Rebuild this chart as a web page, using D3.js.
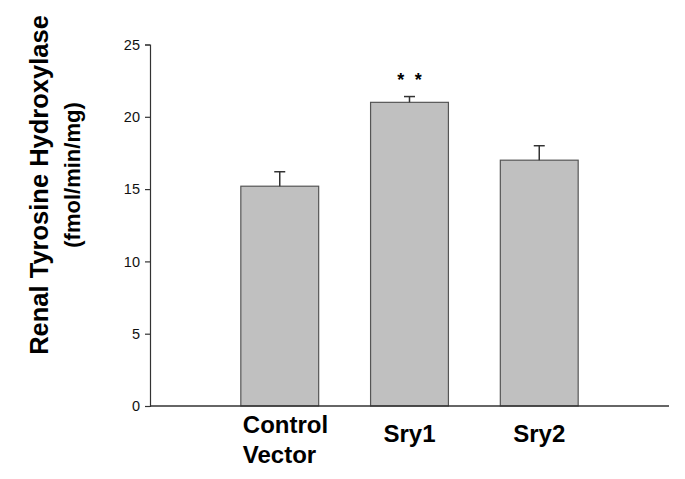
<!DOCTYPE html>
<html>
<head>
<meta charset="utf-8">
<script src="https://cdn.jsdelivr.net/npm/d3@7"></script>
<style>
  body { margin: 0; background: #fff; }
  text { font-family: Arial, "Liberation Sans", sans-serif; }
</style>
</head>
<body>
<svg id="chart" width="685" height="479"></svg>
<script>
// values
var groups = ["Control", "Sry1", "Sry2"];
var groupLabels = [["Control", "Vector"], ["Sry1"], ["Sry2"]];
var means = [15.2, 21.0, 17.0];
var sem = [1.0, 0.4, 1.0];
var marks = ["", "**", ""];
var yTicks = [0, 5, 10, 15, 20, 25];
var yTitle = ["Renal Tyrosine Hydroxylase", "(fmol/min/mg)"];

var svg = d3.select("#chart");
var plotL = 150, plotR = 669, plotT = 44.5, plotB = 406;

var x = d3.scalePoint().domain(groups).range([plotL, plotR]).padding(1);
var y = d3.scaleLinear().domain([0, 25]).range([plotB, plotT]);
var bw = x.step() * 0.6;

var rows = groups.map(function(g, i) {
  return { g: g, m: means[i], e: sem[i], s: marks[i], lab: groupLabels[i] };
});

// bars
svg.append("g").selectAll("rect").data(rows).join("rect")
  .attr("x", d => x(d.g) - bw / 2)
  .attr("y", d => y(d.m))
  .attr("width", bw)
  .attr("height", d => y(0) - y(d.m))
  .attr("fill", "#c0c0c0")
  .attr("stroke", "#555")
  .attr("stroke-width", 1.2);

// error bars (upper only)
var eb = svg.append("g").attr("stroke", "#333").attr("stroke-width", 1.5);
eb.selectAll("line.v").data(rows).join("line").attr("class", "v")
  .attr("x1", d => x(d.g)).attr("x2", d => x(d.g))
  .attr("y1", d => y(d.m)).attr("y2", d => y(d.m + d.e));
eb.selectAll("line.c").data(rows).join("line").attr("class", "c")
  .attr("x1", d => x(d.g) - 5.5).attr("x2", d => x(d.g) + 5.5)
  .attr("y1", d => y(d.m + d.e)).attr("y2", d => y(d.m + d.e));

// significance stars
rows.filter(d => d.s).forEach(function(d) {
  d.s.split("").forEach(function(c, k, arr) {
    svg.append("text")
      .attr("x", x(d.g) + (k - (arr.length - 1) / 2) * 17.5)
      .attr("y", y(d.m + d.e) - 11)
      .attr("text-anchor", "middle")
      .attr("font-size", 18).attr("font-weight", "bold")
      .text(c);
  });
});

// y axis
var ya = svg.append("g").attr("transform", "translate(" + plotL + ",0)")
  .call(d3.axisLeft(y).tickValues(yTicks).tickSize(5).tickPadding(5));
ya.select(".domain").attr("stroke", "#333").attr("stroke-width", 1.2);
ya.selectAll(".tick line").attr("stroke", "#333").attr("stroke-width", 1.2);
ya.selectAll(".tick text").attr("font-size", 14.5).attr("fill", "#111")
  .attr("font-family", "Arial, 'Liberation Sans', sans-serif");

// x axis baseline
svg.append("line")
  .attr("x1", plotL).attr("x2", plotR)
  .attr("y1", y(0)).attr("y2", y(0))
  .attr("stroke", "#333").attr("stroke-width", 1.5);

// category labels
rows.forEach(function(d) {
  var multi = d.lab.length > 1;
  var t = svg.append("text")
    .attr("font-size", 24).attr("font-weight", "bold")
    .attr("text-anchor", multi ? "start" : "middle");
  d.lab.forEach(function(line, k) {
    t.append("tspan")
      .attr("x", multi ? x(d.g) - bw / 2 + 2 : x(d.g))
      .attr("y", multi ? 433 + k * 30 : 442)
      .text(line);
  });
});

// y title
var yt = svg.append("text")
  .attr("transform", "translate(0,185) rotate(-90)")
  .attr("text-anchor", "middle")
  .attr("font-weight", "bold");
yt.append("tspan").attr("x", 0).attr("y", 48).attr("font-size", 25.5).text(yTitle[0]);
yt.append("tspan").attr("x", 10).attr("y", 80).attr("font-size", 22).text(yTitle[1]);
</script>
</body>
</html>
